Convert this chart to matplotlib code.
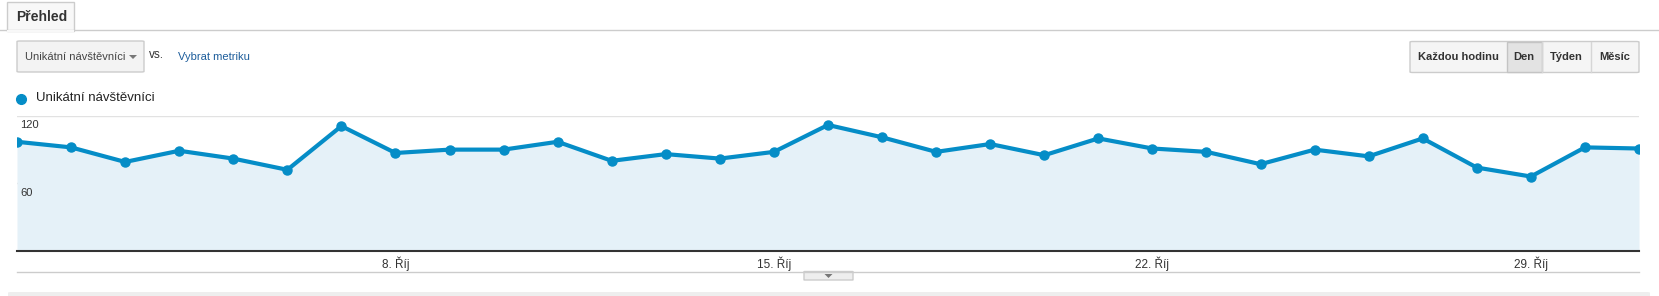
import matplotlib.pyplot as plt
from matplotlib.patches import FancyBboxPatch, Rectangle, Polygon
from matplotlib.lines import Line2D

# Unikátní návštěvníci, 1.–31. října
days = list(range(1, 32))
visitors = [97, 92, 79, 89, 82, 72, 111, 87, 90, 90, 97, 80, 86, 82, 88, 112,
            101, 88, 95, 85, 100, 91, 88, 77, 90, 84, 100, 74, 66, 92, 91]
tick_days = [8, 15, 22, 29]
month_label = 'Říj'
y_ticks = [60, 120]
metric = 'Unikátní návštěvníci'
periods = ['Každou hodinu', 'Den', 'Týden', 'Měsíc']

W, H = 1659, 296
plt.rcParams['font.family'] = ['Liberation Sans', 'DejaVu Sans']

fig = plt.figure(figsize=(W / 100, H / 100), dpi=100)


def fx(x):
    return x / W


def fy(y):
    return 1 - y / H


def box(x0, y0, x1, y1, fc, ec, r=3, lw=1):
    p = FancyBboxPatch((fx(x0), fy(y1)), fx(x1 - x0), (y1 - y0) / H,
                       boxstyle='round,pad=0,rounding_size=%f' % (r / W),
                       transform=fig.transFigure, fc=fc, ec=ec, lw=lw)
    fig.patches.append(p)


def hline(x0, x1, y, color, lw=1):
    fig.lines.append(Line2D([fx(x0), fx(x1)], [fy(y), fy(y)],
                            transform=fig.transFigure, color=color, lw=lw))


def tri(xc, yc, s, color):
    pts = [(fx(xc - s), fy(yc - s / 2)), (fx(xc + s), fy(yc - s / 2)),
           (fx(xc), fy(yc + s / 2))]
    fig.patches.append(Polygon(pts, closed=True, transform=fig.transFigure,
                               fc=color, ec='none'))


# tab header
hline(0, W, 30, '#cccccc')
fig.patches.append(Rectangle((fx(7), fy(31)), fx(67), 29 / H,
                             transform=fig.transFigure, fc='#f8f8f8',
                             ec='#cccccc', lw=1))
hline(8, 73, 30.5, '#f8f8f8', lw=1.5)
fig.text(fx(16), fy(17), 'Přehled', fontsize=10, fontweight='bold',
         color='#333333', va='center')

# metric selector
box(17, 41, 144, 72, '#f3f3f3', '#cccccc')
fig.text(fx(25), fy(57), metric, fontsize=8, color='#444444', va='center')
tri(133, 57, 4, '#777777')
fig.text(fx(149), fy(55), 'vs.', fontsize=8.5, color='#333333', va='center')
fig.text(fx(178), fy(57), 'Vybrat metriku', fontsize=8, color='#1d5d9b',
         va='center')

# period buttons
box(1410, 41.5, 1639, 72.5, '#f5f5f5', '#cccccc')
fig.patches.append(Rectangle((fx(1506.5), fy(72)), fx(35.5), 30 / H,
                             transform=fig.transFigure, fc='#e3e3e3',
                             ec='#c4c4c4', lw=1))
edges = [1410, 1506.5, 1542, 1591, 1639]
for i, lab in enumerate(periods):
    fig.text(fx((edges[i] + edges[i + 1]) / 2), fy(57), lab, fontsize=8,
             fontweight='bold', color='#333333', ha='center', va='center')
    if 0 < i < len(periods) - 1:
        fig.lines.append(Line2D([fx(edges[i + 1])] * 2, [fy(42), fy(72)],
                                transform=fig.transFigure, color='#d6d6d6',
                                lw=1))

# legend
fig.lines.append(Line2D([fx(21)], [fy(98.5)], marker='o', markersize=7,
                        color='#058dc7', transform=fig.transFigure))
fig.text(fx(36), fy(98), metric, fontsize=9.5, color='#222222', va='center')

# chart
ax = fig.add_axes([fx(17), fy(250.5), fx(1622), 134.5 / H])
x = list(range(len(days)))
ax.fill_between(x, visitors, color='#e5f1f8', lw=0)
ax.plot(x, visitors, color='#058dc7', lw=3, marker='o', markersize=6.5,
        solid_joinstyle='round')
ax.set_xlim(0, len(days) - 1)
ax.set_ylim(0, 120)
ax.set_yticks(y_ticks)
ax.set_yticklabels([])
ax.grid(axis='y', color='#e2e2e2', lw=1)
ax.set_axisbelow(True)
for v in y_ticks:
    ax.text(0.002, v - 4, str(v), transform=ax.get_yaxis_transform(),
            fontsize=8, color='#333333', va='top', ha='left')
ax.set_xticks([days.index(d) for d in tick_days])
ax.set_xticklabels(['%d. %s' % (d, month_label) for d in tick_days],
                   fontsize=8.5, color='#333333')
ax.tick_params(length=0, pad=4)
for s in ['top', 'left', 'right']:
    ax.spines[s].set_visible(False)
ax.spines['bottom'].set_color('#333333')
ax.spines['bottom'].set_linewidth(1.5)

# footer
hline(17, 1639, 271.5, '#cccccc')
box(804, 271.5, 853, 280, '#eeeeee', '#cccccc', r=1)
tri(828.5, 276, 4, '#777777')
box(8, 292, 1650, 300, '#eeeeee', 'none', r=4)

fig.savefig('out.png', dpi=100)
